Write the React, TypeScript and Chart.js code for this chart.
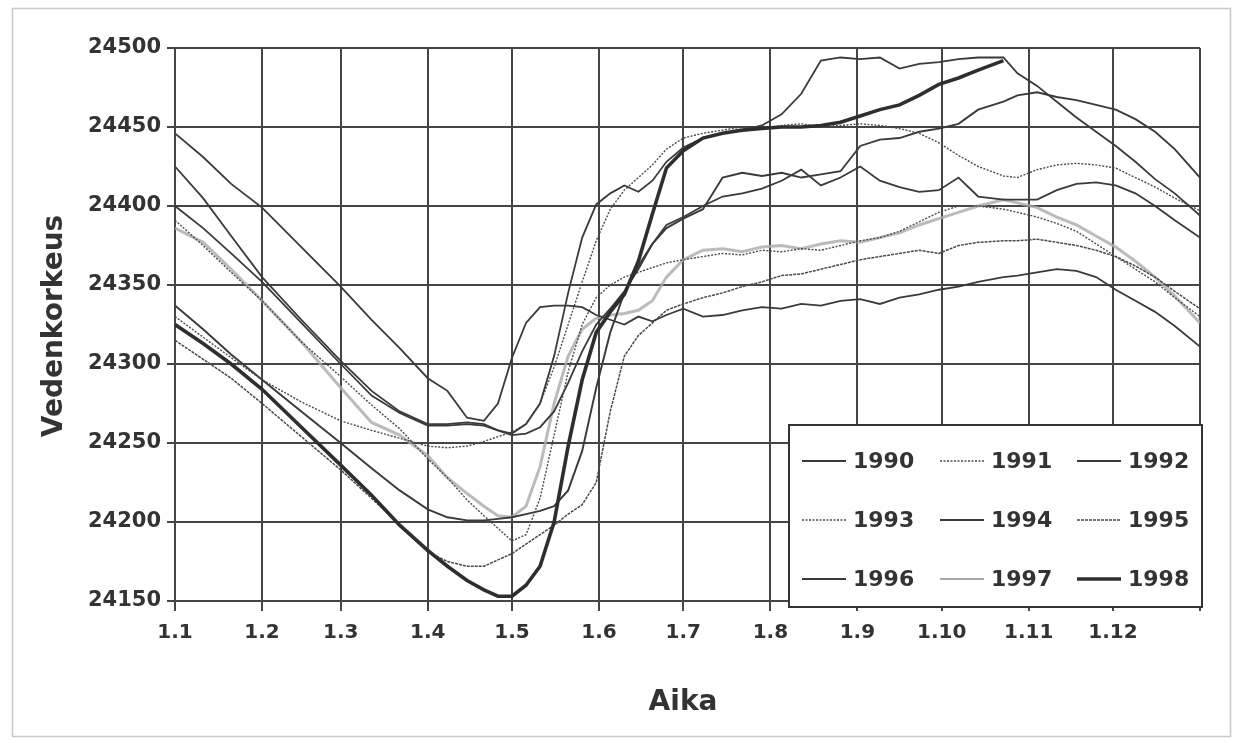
import { useEffect, useRef } from "react";
import { Chart, registerables } from "chart.js";

Chart.register(...registerables);

// Day of year (0 = 1.1) for each sample
const DAYS = [0, 10, 20, 31, 45, 59, 70, 80, 90, 97,
  104, 110, 115, 120, 125, 130, 135, 140, 145, 150,
  155, 160, 165, 170, 175, 181, 188, 195, 202, 209,
  216, 223, 230, 237, 244, 251, 258, 265, 272, 279,
  286, 295, 300, 307, 314, 321, 328, 335, 342, 349,
  356, 365];

const Y1990 = [24446, 24431, 24414, 24399, 24374, 24349, 24328, 24310, 24291, 24283,
  24266, 24264, 24275, 24304, 24326, 24336, 24337, 24337, 24336, 24331,
  24328, 24325, 24330, 24327, 24331, 24335, 24330, 24331, 24334, 24336,
  24335, 24338, 24337, 24340, 24341, 24338, 24342, 24344, 24347, 24349,
  24352, 24355, 24356, 24358, 24360, 24359, 24355, 24347, 24340, 24333,
  24324, 24311];
const Y1991 = [24391, 24375, 24358, 24340, 24314, 24292, 24274, 24259, 24240, 24228,
  24214, 24204, 24196, 24188, 24192, 24215, 24255, 24295, 24325, 24342,
  24350, 24355, 24358, 24361, 24364, 24366, 24368, 24370, 24369, 24372,
  24371, 24373, 24372, 24375, 24378, 24380, 24384, 24390, 24396, 24400,
  24400, 24398, 24396, 24393, 24389, 24384, 24376, 24368, 24360, 24352,
  24342, 24330];
const Y1992 = [24425, 24405, 24381, 24355, 24328, 24302, 24283, 24270, 24262, 24262,
  24263, 24262, 24258, 24256, 24262, 24275, 24305, 24345, 24380, 24401,
  24408, 24413, 24409, 24416, 24428, 24437, 24443, 24446, 24448, 24451,
  24458, 24471, 24492, 24494, 24493, 24494, 24487, 24490, 24491, 24493,
  24494, 24494, 24484, 24476, 24466, 24456, 24447, 24438, 24428, 24417,
  24408, 24394];
const Y1993 = [24330, 24317, 24304, 24290, 24276, 24264, 24258, 24253, 24248, 24247,
  24248, 24251, 24254, 24257, 24262, 24275, 24298, 24325, 24352, 24378,
  24398, 24410, 24418, 24426, 24436, 24443, 24446, 24448, 24450, 24449,
  24451, 24452, 24450, 24451, 24452, 24451, 24449, 24446, 24440, 24432,
  24425, 24419, 24418, 24423, 24426, 24427, 24426, 24424, 24418, 24412,
  24405, 24397];
const Y1994 = [24400, 24386, 24370, 24352, 24326, 24300, 24280, 24269, 24261, 24261,
  24262, 24261, 24258, 24255, 24256, 24260, 24270, 24288, 24308, 24325,
  24335, 24346, 24360, 24376, 24388, 24393, 24400, 24406, 24408, 24411,
  24416, 24423, 24413, 24418, 24425, 24416, 24412, 24409, 24410, 24418,
  24406, 24404, 24404, 24404, 24410, 24414, 24415, 24413, 24408, 24400,
  24391, 24380];
const Y1995 = [24315, 24303, 24291, 24275, 24254, 24233, 24215, 24198, 24181, 24175,
  24172, 24172, 24176, 24180, 24186, 24192, 24198, 24205, 24211, 24225,
  24270, 24305, 24318, 24326, 24334, 24338, 24342, 24345, 24349, 24352,
  24356, 24357, 24360, 24363, 24366, 24368, 24370, 24372, 24370, 24375,
  24377, 24378, 24378, 24379, 24377, 24375, 24372, 24368, 24362, 24355,
  24346, 24335];
const Y1996 = [24337, 24322, 24306, 24290, 24270, 24250, 24234, 24220, 24208, 24203,
  24201, 24201, 24202, 24203, 24205, 24207, 24210, 24220, 24245, 24285,
  24320, 24345, 24362, 24376, 24386, 24392, 24398, 24418, 24421, 24419,
  24421, 24418, 24420, 24422, 24438, 24442, 24443, 24447, 24449, 24452,
  24461, 24466, 24470, 24472, 24469, 24467, 24464, 24461, 24455, 24447,
  24436, 24418];
const Y1997 = [24386, 24377, 24360, 24340, 24314, 24285, 24263, 24255, 24242, 24228,
  24218, 24210, 24204, 24203, 24210, 24235, 24275, 24305, 24322, 24329,
  24331, 24332, 24334, 24340, 24355, 24366, 24372, 24373, 24371, 24374,
  24375, 24373, 24376, 24378, 24377, 24380, 24383, 24388, 24392, 24396,
  24400, 24404, 24402, 24399, 24393, 24388, 24381, 24374, 24365, 24355,
  24343, 24326];
const Y1998 = [24325, 24313, 24300, 24284, 24260, 24236, 24217, 24198, 24182, 24172,
  24163, 24157, 24153, 24153, 24160, 24172, 24200, 24248, 24290, 24320,
  24333, 24344, 24365, 24395, 24424, 24435, 24443, 24446, 24448, 24449,
  24450, 24450, 24451, 24453, 24457, 24461, 24464, 24470, 24477, 24481,
  24486, 24492, null, null, null, null, null, null, null, null,
  null, null];

const YEARS = ["1990", "1991", "1992", "1993", "1994", "1995", "1996", "1997", "1998"];
const VALUES = [Y1990, Y1991, Y1992, Y1993, Y1994, Y1995, Y1996, Y1997, Y1998];

const MONTH_START = [0, 31, 59, 90, 120, 151, 181, 212, 243, 273, 304, 334, 365];
const MONTH_LABELS = ["1.1", "1.2", "1.3", "1.4", "1.5", "1.6", "1.7", "1.8", "1.9", "1.10", "1.11", "1.12", ""];

const Y_MIN = 24150;
const Y_MAX = 24500;
const Y_STEP = 50;

const X_TITLE = "Aika";
const Y_TITLE = "Vedenkorkeus";

const INK = "#333333";
const GRID = "#454545";

type Style = { color: string; width: number; dash: number[]; order: number };
const STYLES: Style[] = [
  { color: "#3a3a3a", width: 1.8, dash: [], order: 5 },
  { color: "#4a4a4a", width: 1.4, dash: [2, 1.5], order: 5 },
  { color: "#3a3a3a", width: 1.8, dash: [], order: 5 },
  { color: "#4a4a4a", width: 1.4, dash: [2, 1.5], order: 5 },
  { color: "#3a3a3a", width: 1.8, dash: [], order: 5 },
  { color: "#4a4a4a", width: 1.5, dash: [3, 1], order: 5 },
  { color: "#3a3a3a", width: 1.9, dash: [], order: 5 },
  { color: "rgba(170,170,170,0.8)", width: 3, dash: [], order: 10 },
  { color: "#2e2e2e", width: 3.6, dash: [], order: 0 },
];

const FONT = "'DejaVu Sans', 'Liberation Sans', sans-serif";

export default function App() {
  const ref = useRef<HTMLCanvasElement>(null);

  useEffect(() => {
    const canvas = ref.current;
    if (!canvas) return;

    const datasets = YEARS.map((yr, i) => ({
      label: yr,
      data: DAYS.map((d, j) => ({ x: d, y: VALUES[i][j] })),
      borderColor: STYLES[i].color,
      borderWidth: STYLES[i].width,
      borderDash: STYLES[i].dash,
      order: STYLES[i].order,
      pointRadius: 0,
      tension: 0,
      fill: false,
      spanGaps: false,
    }));

    const decor = {
      id: "decor",
      beforeDraw(chart: any) {
        const ctx = chart.ctx;
        ctx.save();
        ctx.strokeStyle = "#c8c8c8";
        ctx.lineWidth = 1.5;
        ctx.strokeRect(12.5, 8.5, 1218, 728);
        ctx.restore();
      },
      afterDraw(chart: any) {
        const ctx = chart.ctx;
        ctx.save();
        // axis titles
        ctx.fillStyle = INK;
        ctx.font = `bold 28px ${FONT}`;
        ctx.textAlign = "center";
        ctx.textBaseline = "middle";
        ctx.fillText(X_TITLE, 683, 703);
        ctx.save();
        ctx.translate(55, 326);
        ctx.rotate(-Math.PI / 2);
        ctx.fillText(Y_TITLE, 0, 0);
        ctx.restore();

        // legend box
        const bx = 789, by = 425, bw = 413, bh = 182;
        ctx.fillStyle = "#ffffff";
        ctx.fillRect(bx, by, bw, bh);
        ctx.strokeStyle = "#333";
        ctx.lineWidth = 2;
        ctx.strokeRect(bx, by, bw, bh);
        const colX = [802, 940, 1077];
        const rowY = [461, 520, 579];
        ctx.font = `bold 22px ${FONT}`;
        ctx.textAlign = "left";
        ctx.textBaseline = "middle";
        YEARS.forEach((yr, i) => {
          const cx = colX[i % 3];
          const cy = rowY[Math.floor(i / 3)];
          const st = STYLES[i];
          ctx.beginPath();
          ctx.strokeStyle = i === 7 ? "#8a8a8a" : st.color;
          ctx.lineWidth = i === 7 ? 1.6 : st.width;
          ctx.setLineDash(st.dash);
          ctx.moveTo(cx, cy);
          ctx.lineTo(cx + 44, cy);
          ctx.stroke();
          ctx.setLineDash([]);
          ctx.fillStyle = INK;
          ctx.fillText(yr, cx + 51, cy + 1);
        });
        ctx.restore();
      },
    };

    const chart = new Chart(canvas, {
      type: "line",
      data: { datasets } as any,
      options: {
        animation: false,
        responsive: false,
        devicePixelRatio: 1,
        layout: { padding: { left: 0, right: 39, top: 48, bottom: 0 } },
        plugins: {
          legend: { display: false },
          tooltip: { enabled: false },
          title: { display: false },
        },
        scales: {
          x: {
            type: "linear",
            min: 0,
            max: 365,
            afterBuildTicks: (s: any) => {
              s.ticks = MONTH_START.map((v) => ({ value: v }));
            },
            afterFit: (s: any) => {
              s.height = 142;
            },
            ticks: {
              autoSkip: false,
              maxRotation: 0,
              padding: 10,
              color: INK,
              font: { family: FONT, size: 20, weight: "bold" },
              callback: (v: any) => {
                const k = MONTH_START.indexOf(Number(v));
                return k >= 0 ? MONTH_LABELS[k] : "";
              },
            },
            grid: { color: GRID, lineWidth: 2, tickLength: 10, drawOnChartArea: true },
            border: { color: GRID, width: 2 },
          },
          y: {
            min: Y_MIN,
            max: Y_MAX,
            afterFit: (s: any) => {
              s.width = 175;
            },
            ticks: {
              stepSize: Y_STEP,
              padding: 6,
              color: INK,
              font: { family: FONT, size: 21, weight: "bold" },
              callback: (v: any) => String(v),
            },
            grid: { color: GRID, lineWidth: 2, tickLength: 8 },
            border: { color: GRID, width: 2 },
          },
        },
      } as any,
      plugins: [decor],
    });

    return () => chart.destroy();
  }, []);

  return (
    <div style={{ position: "absolute", left: 0, top: 0, width: 1239, height: 743, background: "#fff" }}>
      <canvas ref={ref} width={1239} height={743} style={{ display: "block" }} />
    </div>
  );
}
